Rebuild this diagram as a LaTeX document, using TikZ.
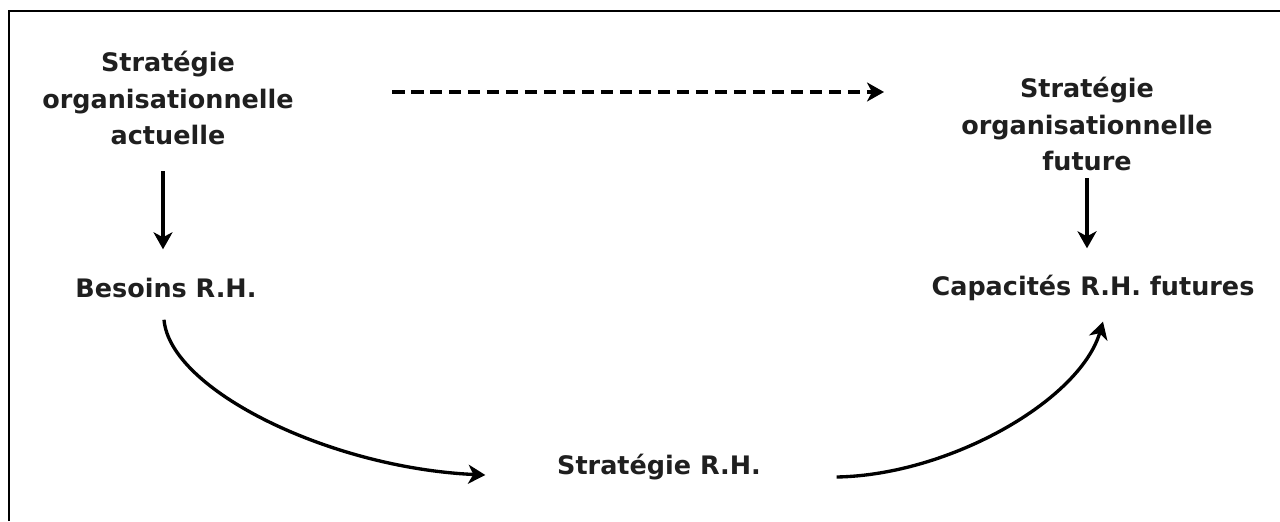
\documentclass[tikz,border=0pt]{standalone}
\usepackage{fontspec}
\setmainfont{DejaVu Sans}
\usetikzlibrary{arrows.meta,positioning,calc}

\begin{document}
\begin{tikzpicture}[x=0.02cm, y=-0.02cm,
    >={Stealth[length=0.34cm, width=0.38cm, inset=0.1cm]},
    lbl/.style={font=\bfseries\fontsize{14.5}{20.5}\selectfont, text=black!88, align=center, inner sep=2pt},
    conn/.style={->, line width=1.9pt},
    dasharrow/.style={->, line width=2.3pt, dash pattern=on 0.25cm off 0.13cm}]
    \useasboundingbox (0,0) rectangle (1280,521);
    % Frame
    \draw[line width=0.9pt] (9,521) -- (9,11) -- (1280,11);

    % Nodes
    \node[lbl] (actuelle) at (168,98) {Stratégie\\organisationnelle\\actuelle};
    \node[lbl] (future) at (1087,124) {Stratégie\\organisationnelle\\future};
    \node[lbl] (besoins) at (166,288) {Besoins R.H.};
    \node[lbl] (capacites) at (1093,288) {Capacités R.H. futures};
    \node[lbl] (strh) at (659,467) {Stratégie R.H.};

    % Dashed link between the two strategies
    \coordinate (d1) at (392,92);
    \coordinate (d2) at (884,92);
    \draw[dasharrow] (d1) -- (d2);

    % Vertical arrows
    \draw[conn, shorten <=0.46cm, shorten >=0.5cm] ([xshift=-0.1cm]actuelle.south) -- ([xshift=-0.1cm]actuelle.south |- besoins.north);
    \draw[conn, shorten <=0.08cm, shorten >=0.46cm] (future.south) -- (capacites.north -| future.south);

    % Curved arrows
    \draw[conn] ($(besoins.south)+(-2,18)$) .. controls (170,390) and (330,468) .. ($(strh.west)+(-68,8)$);
    \draw[conn] ($(strh.east)+(72,10)$) .. controls (950,475) and (1080,400) .. ($(capacites.south)+(10,17)$);
\end{tikzpicture}
\end{document}
